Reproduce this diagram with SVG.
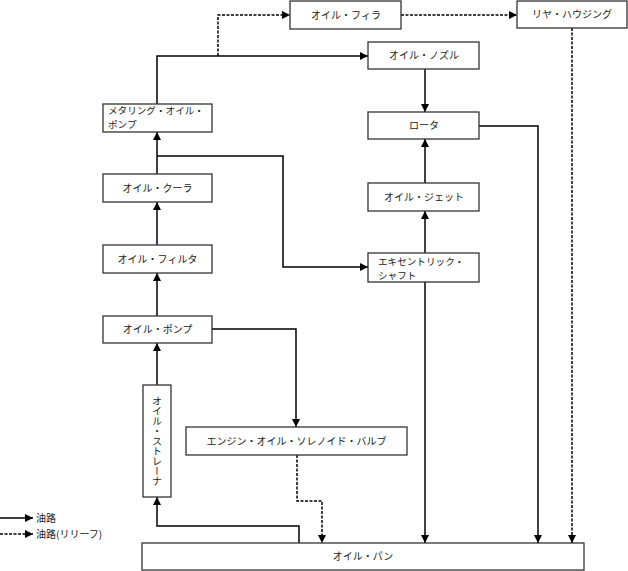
<svg xmlns="http://www.w3.org/2000/svg" width="628" height="571" viewBox="0 0 628 571">
<defs>
<marker id="ah" markerUnits="userSpaceOnUse" markerWidth="9" markerHeight="8" refX="8" refY="4" orient="auto">
<path d="M0,0 L8,4 L0,8 z" fill="#000"/>
</marker>
<style>
.box{fill:#fff;stroke:#333;stroke-width:1.3}
.t{font-family:"Noto Sans CJK JP","Liberation Sans",sans-serif;font-size:10px;fill:#222}
.m{font-size:9.6px}
.c{text-anchor:middle}
.v{writing-mode:vertical-rl;text-orientation:upright}
.ln{fill:none;stroke:#000;stroke-width:1.5}
.dl{fill:none;stroke:#000;stroke-width:1.5;stroke-dasharray:3 1.5}
</style>
</defs>
<rect width="628" height="571" fill="#fff"/>
<g id="connectors">
<path class="ln" d="M157,104 V56 H368" marker-end="url(#ah)"/>
<path class="dl" d="M218,56 V15 H290" marker-end="url(#ah)"/>
<path class="dl" d="M401,15 H517" marker-end="url(#ah)"/>
<path class="dl" d="M572,28 V543" marker-end="url(#ah)"/>
<path class="ln" d="M425,69 V112" marker-end="url(#ah)"/>
<path class="ln" d="M479,126 H538 V543" marker-end="url(#ah)"/>
<path class="ln" d="M425,183 V139" marker-end="url(#ah)"/>
<path class="ln" d="M425,253 V211" marker-end="url(#ah)"/>
<path class="ln" d="M425,282 V543" marker-end="url(#ah)"/>
<path class="ln" d="M157,174 V132" marker-end="url(#ah)"/>
<path class="ln" d="M157,156 H283 V267 H368" marker-end="url(#ah)"/>
<path class="ln" d="M157,245 V202" marker-end="url(#ah)"/>
<path class="ln" d="M157,316 V273" marker-end="url(#ah)"/>
<path class="ln" d="M212,329 H296 V427" marker-end="url(#ah)"/>
<path class="ln" d="M157,385 V343" marker-end="url(#ah)"/>
<path class="ln" d="M299,543 V526 H157 V497" marker-end="url(#ah)"/>
<path class="dl" d="M297,455 V501 H322 V543" marker-end="url(#ah)"/>
</g>
<g id="oil-filler"><rect class="box" x="290" y="1" width="111" height="28"/><text class="t c" x="346" y="18.5">オイル・フィラ</text></g>
<g id="rear-housing"><rect class="box" x="517" y="1" width="110" height="27"/><text class="t c" x="572" y="18">リヤ・ハウジング</text></g>
<g id="oil-nozzle"><rect class="box" x="368" y="42" width="111" height="27"/><text class="t c" x="424" y="59">オイル・ノズル</text></g>
<g id="metering-oil-pump"><rect class="box" x="103" y="104" width="109" height="28"/><text class="t m" x="108" y="113.5"><tspan x="108" y="113.5">メタリング・オイル・</tspan><tspan x="108" y="127.5">ポンプ</tspan></text></g>
<g id="rotor"><rect class="box" x="368" y="112" width="111" height="27"/><text class="t c" x="424" y="129">ロータ</text></g>
<g id="oil-cooler"><rect class="box" x="103" y="174" width="109" height="28"/><text class="t c" x="157.5" y="191.5">オイル・クーラ</text></g>
<g id="oil-jet"><rect class="box" x="368" y="183" width="111" height="28"/><text class="t c" x="424" y="200.5">オイル・ジェット</text></g>
<g id="oil-filter"><rect class="box" x="103" y="245" width="109" height="28"/><text class="t c" x="157.5" y="262.5">オイル・フィルタ</text></g>
<g id="eccentric-shaft"><rect class="box" x="368" y="253" width="111" height="29"/><text class="t m" x="378" y="264.5"><tspan x="378" y="264.5">エキセントリック・</tspan><tspan x="378" y="278.5">シャフト</tspan></text></g>
<g id="oil-pump"><rect class="box" x="103" y="316" width="109" height="27"/><text class="t c" x="157.5" y="333">オイル・ポンプ</text></g>
<g id="oil-strainer"><rect class="box" x="143" y="385" width="28" height="112"/><text class="t v" x="157" y="396">オイル・ストレーナ</text></g>
<g id="solenoid-valve"><rect class="box" x="186" y="427" width="221" height="28"/><text class="t c" x="296.5" y="444.5">エンジン・オイル・ソレノイド・バルブ</text></g>
<g id="oil-pan"><rect class="box" x="142" y="543" width="442" height="27"/><text class="t c" x="363" y="560">オイル・パン</text></g>
<g id="legend">
<path class="ln" d="M0,518 H33" marker-end="url(#ah)"/>
<text class="t" x="36" y="522">油路</text>
<path class="dl" d="M0,534 H33" marker-end="url(#ah)"/>
<text class="t" x="36" y="538">油路(リリーフ)</text>
</g>
</svg>
